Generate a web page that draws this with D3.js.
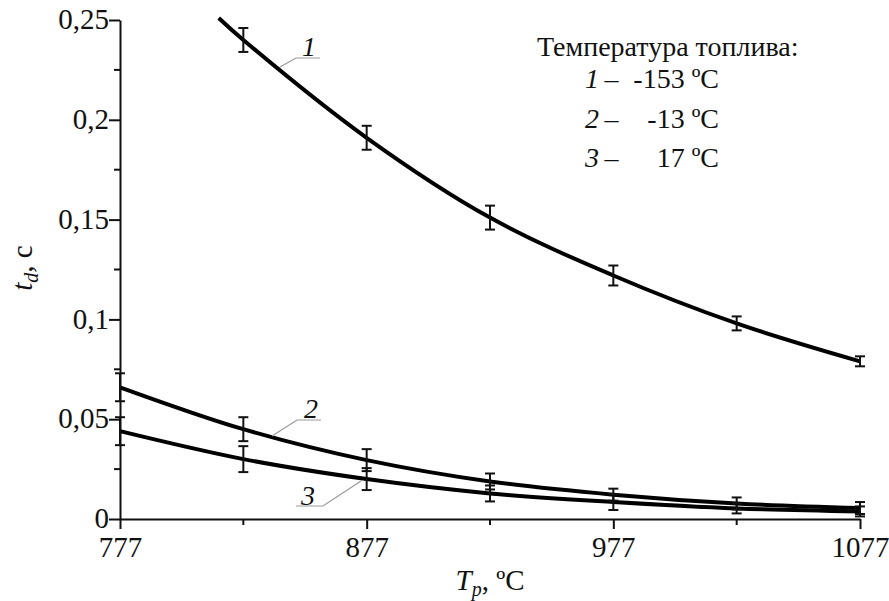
<!DOCTYPE html>
<html>
<head>
<meta charset="utf-8">
<script src="https://cdn.jsdelivr.net/npm/d3@7"></script>
<style>
  html, body { margin: 0; padding: 0; background: #fff; }
  svg { display: block; }
  text { font-family: "Liberation Serif", "Times New Roman", serif; fill: #111; }
</style>
</head>
<body>
<svg id="chart" width="889" height="601"></svg>
<script>
// ---------- data ----------
const temps = [777, 827, 877, 927, 977, 1027, 1077];
// curve 1 enters the plot at its top edge
const curve1T = [817, 827, 877, 927, 977, 1027, 1077];
const curve1V = [0.251, 0.240, 0.191, 0.151, 0.122, 0.098, 0.079];
const err1T = [827, 877, 927, 977, 1027, 1077];
const err1V = [0.240, 0.191, 0.151, 0.122, 0.098, 0.079];
const err1E = [0.006, 0.006, 0.006, 0.005, 0.0035, 0.0025];

const series2 = [0.066, 0.045, 0.0295, 0.0188, 0.0122, 0.0078, 0.0055];
const err2E   = [0.007, 0.006, 0.0055, 0.004, 0.003, 0.003, 0.003];
const series3 = [0.044, 0.030, 0.020, 0.0128, 0.0085, 0.0053, 0.0038];
const err3E   = [0.007, 0.0065, 0.0055, 0.004, 0.004, 0.0025, 0.0025];

const xTicks = [777, 877, 977, 1077];
const xMinor = [827, 927, 1027];
const yTicks = [0, 0.05, 0.1, 0.15, 0.2, 0.25];
const yTickLabels = ["0", "0,05", "0,1", "0,15", "0,2", "0,25"];
const yMinor = [0.025, 0.075, 0.125, 0.175, 0.225];

const legendTitle = "Температура топлива:";
const legendNums = ["1", "2", "3"];
const legendVals = ["-153 ºC", "-13 ºC", "17 ºC"];

// ---------- drawing ----------
const svg = d3.select("#chart");
const x = d3.scaleLinear().domain([777, 1077]).range([120, 860]);
const y = d3.scaleLinear().domain([0, 0.25]).range([519, 20]);
const FS = 29;
const SERIF = "Liberation Serif, Times New Roman, serif";

// axes
const xAxis = d3.axisBottom(x).tickValues(xTicks).tickSize(10).tickSizeOuter(0).tickFormat(d3.format("d"));
const gx = svg.append("g").attr("transform", `translate(0,${y(0)})`).call(xAxis);
gx.attr("font-family", SERIF);
gx.select(".domain").attr("stroke", "#111").attr("stroke-width", 2);
gx.selectAll(".tick line").attr("stroke", "#111").attr("stroke-width", 2);
gx.selectAll(".tick text").attr("font-size", FS).attr("dy", "0.95em").attr("y", 10)
  .style("font-family", SERIF);
gx.selectAll(".minor").data(xMinor).enter().append("line")
  .attr("x1", d => x(d)).attr("x2", d => x(d)).attr("y1", 0).attr("y2", 6)
  .attr("stroke", "#111").attr("stroke-width", 2);

const yAxis = d3.axisLeft(y).tickValues(yTicks).tickSize(11).tickSizeOuter(0)
  .tickFormat((d, i) => yTickLabels[i]);
const gy = svg.append("g").attr("transform", `translate(${x(777)},0)`).call(yAxis);
gy.attr("font-family", SERIF);
gy.select(".domain").attr("stroke", "#111").attr("stroke-width", 2);
gy.selectAll(".tick line").attr("stroke", "#111").attr("stroke-width", 2);
gy.selectAll(".tick text").attr("font-size", FS).attr("x", -11).attr("dy", "0.3em")
  .style("font-family", SERIF);
gy.selectAll(".minor").data(yMinor).enter().append("line")
  .attr("x1", -6).attr("x2", 0).attr("y1", d => y(d)).attr("y2", d => y(d))
  .attr("stroke", "#111").attr("stroke-width", 2);

// axis titles
const xt = svg.append("text").attr("x", 490).attr("y", 590).attr("text-anchor", "middle").attr("font-size", FS);
xt.append("tspan").attr("font-style", "italic").text("T");
xt.append("tspan").attr("font-style", "italic").attr("font-size", 20).attr("dy", 6).text("p");
xt.append("tspan").attr("dy", -6).text(", ºC");

const yt = svg.append("text").attr("transform", "translate(32,268) rotate(-90)").attr("text-anchor", "middle").attr("font-size", FS);
yt.append("tspan").attr("font-style", "italic").text("t");
yt.append("tspan").attr("font-style", "italic").attr("font-size", 20).attr("dy", 6).text("d");
yt.append("tspan").attr("dy", -6).text(", c");

// curves
const line = d3.line().x(d => x(d[0])).y(d => y(d[1])).curve(d3.curveCatmullRom.alpha(0.5));
const c1 = curve1T.map((t, i) => [t, curve1V[i]]);
const c2 = temps.map((t, i) => [t, series2[i]]);
const c3 = temps.map((t, i) => [t, series3[i]]);
[c1, c2, c3].forEach(c => {
  svg.append("path").attr("d", line(c)).attr("fill", "none")
    .attr("stroke", "#000").attr("stroke-width", 4);
});

// error bars
function errBars(ts, vs, es) {
  const g = svg.append("g").attr("stroke", "#111").attr("stroke-width", 2);
  ts.forEach((t, i) => {
    const cx = x(t), y1 = y(vs[i] + es[i]), y2 = y(vs[i] - es[i]);
    g.append("line").attr("x1", cx).attr("x2", cx).attr("y1", y1).attr("y2", y2);
    g.append("line").attr("x1", cx - 5).attr("x2", cx + 5).attr("y1", y1).attr("y2", y1);
    g.append("line").attr("x1", cx - 5).attr("x2", cx + 5).attr("y1", y2).attr("y2", y2);
  });
}
errBars(err1T, err1V, err1E);
errBars(temps, series2, err2E);
errBars(temps, series3, err3E);

// curve labels with leader lines
function leader(pts) {
  svg.append("polyline").attr("points", pts.map(p => p.join(",")).join(" "))
    .attr("fill", "none").attr("stroke", "#999").attr("stroke-width", 1.2);
}
const LFS = 28;
leader([[280, 67], [296, 58], [320, 58]]);
svg.append("text").attr("x", 309).attr("y", 56).attr("font-size", LFS).attr("font-style", "italic").attr("text-anchor", "middle").text("1");
leader([[272, 436], [297, 420], [321, 420]]);
svg.append("text").attr("x", 311).attr("y", 418).attr("font-size", LFS).attr("font-style", "italic").attr("text-anchor", "middle").text("2");
leader([[361, 481], [323, 506], [296, 506]]);
svg.append("text").attr("x", 308).attr("y", 505).attr("font-size", LFS).attr("font-style", "italic").attr("text-anchor", "middle").text("3");

// legend
svg.append("text").attr("x", 537).attr("y", 56).attr("font-size", LFS).text(legendTitle);
const ly = [88, 128, 167];
legendNums.forEach((n, i) => {
  const t = svg.append("text").attr("x", 585).attr("y", ly[i]).attr("font-size", LFS);
  t.append("tspan").attr("font-style", "italic").text(n);
  t.append("tspan").text("\u2009–");
  svg.append("text").attr("x", 719).attr("y", ly[i]).attr("font-size", LFS).attr("text-anchor", "end").text(legendVals[i]);
});
</script>
</body>
</html>
